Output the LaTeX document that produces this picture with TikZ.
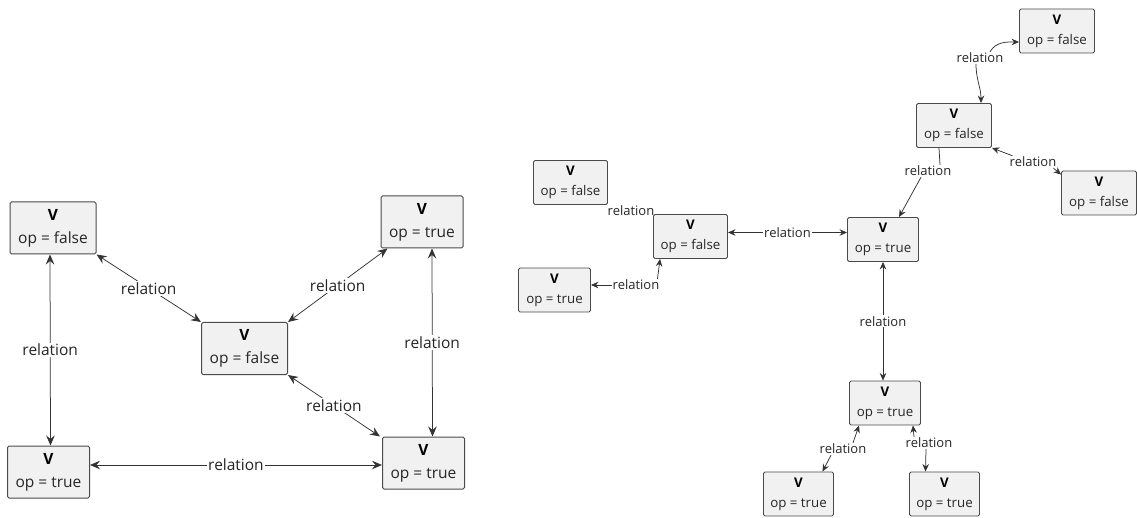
\documentclass[tikz,border=0pt]{standalone}
\usepackage{fontspec}
\setmainfont{Open Sans}
\usetikzlibrary{arrows.meta}
\definecolor{boxfill}{HTML}{F1F1F1}
\definecolor{boxline}{HTML}{4A4A4A}
\definecolor{txt}{HTML}{262626}
\definecolor{edge}{HTML}{333333}
\tikzset{
  bigtip/.tip={Stealth[length=10pt,width=8.5pt,inset=3.5pt]},
  smalltip/.tip={Stealth[length=7.5pt,width=6.5pt,inset=2.5pt]},
  vbig/.style={draw=boxline, fill=boxfill, rounded corners=1.5pt, line width=1pt, align=center, inner sep=0pt, minimum height=52pt, text=txt, font=\fontsize{15.5}{23}\selectfont},
  vsmall/.style={draw=boxline, fill=boxfill, rounded corners=1.5pt, line width=0.9pt, align=center, inner sep=0pt, minimum height=44pt, text=txt, font=\fontsize{13.3}{20}\selectfont},
  lblbig/.style={fill=white, inner sep=1.5pt, text=txt, font=\fontsize{15.5}{17}\selectfont},
  lblsmall/.style={inner sep=1pt, text=txt, font=\fontsize{13}{15}\selectfont},
  conn/.style={draw=edge, line width=0.75pt},
}
\newcommand{\vtext}[1]{\textbf{\color{black}V}\\op = #1}
\begin{document}
\begin{tikzpicture}[x=1pt,y=-1pt]
\useasboundingbox (0,0) rectangle (1137,518);
% ---------- left graph ----------
\node[vbig, minimum width=86pt] (A) at (53,228) {\vtext{false}};
\node[vbig, minimum width=82pt] (B) at (422,222) {\vtext{true}};
\node[vbig, minimum width=86pt] (C) at (244.5,348.5) {\vtext{false}};
\node[vbig, minimum width=82pt] (D) at (48.5,472) {\vtext{true}};
\node[vbig, minimum width=82pt] (E) at (423.5,463) {\vtext{true}};

\draw[conn, bigtip-bigtip] ([xshift=-3pt]A.south) -- node[lblbig]{relation} ([xshift=2pt]D.north);
\draw[conn, bigtip-bigtip] (A.south east) -- node[lblbig]{relation} (C.north west);
\draw[conn, bigtip-bigtip] ([xshift=7pt]B.south west) -- node[lblbig]{relation} (C.north east);
\draw[conn, bigtip-bigtip] ([xshift=10pt]B.south) -- node[lblbig]{relation} ([xshift=9pt]E.north);
\draw[conn, bigtip-bigtip] (C.south east) -- node[lblbig]{relation} ([xshift=-2pt]E.north west);
\draw[conn, bigtip-bigtip] ([yshift=7pt]D.east) -- node[lblbig]{relation} ([yshift=7pt]D.east -| E.west);

% ---------- right graph ----------
\node[vsmall, minimum width=74pt] (F) at (570.5,182.5) {\vtext{false}};
\node[vsmall, minimum width=74pt] (G) at (690.5,236.5) {\vtext{false}};
\node[vsmall, minimum width=72pt] (H) at (554.5,290) {\vtext{true}};
\node[vsmall, minimum width=71pt] (I) at (883,239.5) {\vtext{true}};
\node[vsmall, minimum width=75pt] (J) at (1057,31) {\vtext{false}};
\node[vsmall, minimum width=75pt] (K) at (954,125.5) {\vtext{false}};
\node[vsmall, minimum width=75pt] (L) at (1099,193) {\vtext{false}};
\node[vsmall, minimum width=71pt] (M) at (885,403) {\vtext{true}};
\node[vsmall, minimum width=70pt] (N) at (798.5,494) {\vtext{true}};
\node[vsmall, minimum width=70pt] (O) at (944.5,494) {\vtext{true}};

% F - G (label only)
\node[lblsmall] (lFG) at (631,211) {relation};
% G - H
\node[lblsmall] (lGH) at (636,285) {relation};
\draw[conn, -smalltip] (lGH.west) -- (H.east |- lGH.west);
\draw[conn, -smalltip] ([xshift=-3pt]lGH.north east) -- ([xshift=7pt]G.south west);
% G - I
\draw[conn, smalltip-smalltip] ([yshift=4pt]G.east) -- node[lblsmall, fill=white]{relation} ([yshift=4pt]G.east -| I.west);
% K - I
\node[lblsmall] (lKI) at (928,171) {relation};
\draw[conn] ([xshift=-15pt]K.south) -- ([xshift=12pt]lKI.north);
\draw[conn, -smalltip] ([xshift=-7pt]lKI.south) -- ([xshift=16pt]I.north);
% K - J
\node[lblsmall] (lKJ) at (980,58) {relation};
\draw[conn, -smalltip] ([xshift=10pt]lKJ.north) to[out=60,in=180] ([yshift=-11pt]J.west);
\draw[conn, -smalltip] ([xshift=-4pt]lKJ.south) to[out=-90,in=90] ([xshift=27pt]K.north);
% K - L
\node[lblsmall] (lKL) at (1033,162) {relation};
\draw[conn, -smalltip] ([xshift=4pt]lKL.north west) -- (K.south east);
\draw[conn, -smalltip] ([xshift=-4pt]lKL.south east) -- ([yshift=-4pt]L.north west);
% I - M
\draw[conn, smalltip-smalltip] (I.south) -- node[lblsmall, fill=white]{relation} (I.south |- M.north);
% M - N
\node[lblsmall] (lMN) at (843,449) {relation};
\draw[conn, -smalltip] ([xshift=10pt]lMN.north) -- ([xshift=10pt]M.south west);
\draw[conn, -smalltip] ([xshift=-12pt]lMN.south) -- ([xshift=24pt]N.north);
% M - O
\node[lblsmall] (lMO) at (929,443) {relation};
\draw[conn, -smalltip] ([xshift=-15pt]lMO.north) -- ([xshift=-8pt]M.south east);
\draw[conn, -smalltip] ([xshift=-3pt]lMO.south) -- ([xshift=-19pt]O.north);
\end{tikzpicture}
\end{document}
